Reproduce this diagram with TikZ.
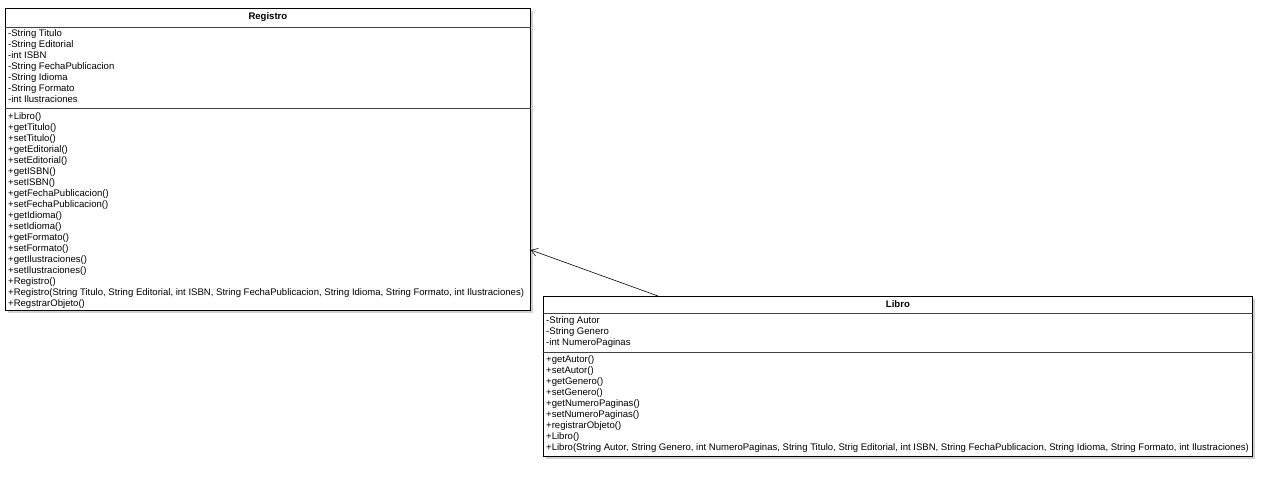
\documentclass[tikz,border=0pt]{standalone}
\usepackage{fontspec}
\setmainfont{Liberation Sans}
\usetikzlibrary{arrows.meta,calc}
\tikzset{
  classbox/.style={draw=black, line width=0.8pt, fill=white, inner sep=0pt, anchor=north west},
  shadowbox/.style={fill=black!18, draw=none, inner sep=0pt, anchor=north west},
  sep/.style={draw=black!75, line width=0.8pt},
  rows/.style={inner sep=0pt, anchor=north west, align=left, font=\fontsize{9.55}{11}\selectfont},
  ctitle/.style={inner sep=0pt, font=\fontsize{9.55}{11}\selectfont\bfseries},
  assoc/.style={draw=black, line width=0.6pt, -{Straight Barb[length=6pt,width=8pt]}}
}
\begin{document}
\begin{tikzpicture}[x=1pt,y=-1pt]
\useasboundingbox (0,0) rectangle (1280,486);
% Registro
\node[shadowbox, minimum width=525pt, minimum height=302pt] (regshadow) at (8,11) {};
\node[classbox, minimum width=525pt, minimum height=302pt] (reg) at (5,8) {};
\draw[sep] ($(reg.north west)+(0,19)$) -- ($(reg.north east)+(0,19)$);
\draw[sep] ($(reg.north west)+(0,100)$) -- ($(reg.north east)+(0,100)$);
\node[ctitle] (regtitle) at ($(reg.north)+(0,9.5)$) {Registro};
\node[rows] (regattrs) at ($(reg.north west)+(3,21.5)$) {-String Titulo\\-String Editorial\\-int ISBN\\-String FechaPublicacion\\-String Idioma\\-String Formato\\-int Ilustraciones};
\node[rows] (regmeth) at ($(reg.north west)+(3,104)$) {+Libro()\\+getTitulo()\\+setTitulo()\\+getEditorial()\\+setEditorial()\\+getISBN()\\+setISBN()\\+getFechaPublicacion()\\+setFechaPublicacion()\\+getIdioma()\\+setIdioma()\\+getFormato()\\+setFormato()\\+getIlustraciones()\\+setIlustraciones()\\+Registro()\\+Registro(String Titulo, String Editorial, int ISBN, String FechaPublicacion, String Idioma, String Formato, int Ilustraciones)\\+RegstrarObjeto()};
% Libro
\node[shadowbox, minimum width=709pt, minimum height=160pt] (libshadow) at (546,299) {};
\node[classbox, minimum width=709pt, minimum height=160pt] (lib) at (543,296) {};
\draw[sep] ($(lib.north west)+(0,17)$) -- ($(lib.north east)+(0,17)$);
\draw[sep] ($(lib.north west)+(0,56)$) -- ($(lib.north east)+(0,56)$);
\node[ctitle] (libtitle) at ($(lib.north)+(0,8.5)$) {Libro};
\node[rows] (libattrs) at ($(lib.north west)+(3,20.5)$) {-String Autor\\-String Genero\\-int NumeroPaginas};
\node[rows] (libmeth) at ($(lib.north west)+(3,59)$) {+getAutor()\\+setAutor()\\+getGenero()\\+setGenero()\\+getNumeroPaginas()\\+setNumeroPaginas()\\+registrarObjeto()\\+Libro()\\+Libro(String Autor, String Genero, int NumeroPaginas, String Titulo, Strig Editorial, int ISBN, String FechaPublicacion, String Idioma, String Formato, int Ilustraciones)};
% association
\coordinate (libtop) at ($(lib.north west)+(115,0)$);
\coordinate (regside) at ($(reg.north east)+(0,242)$);
\draw[assoc] (libtop) -- (regside);
\end{tikzpicture}
\end{document}
